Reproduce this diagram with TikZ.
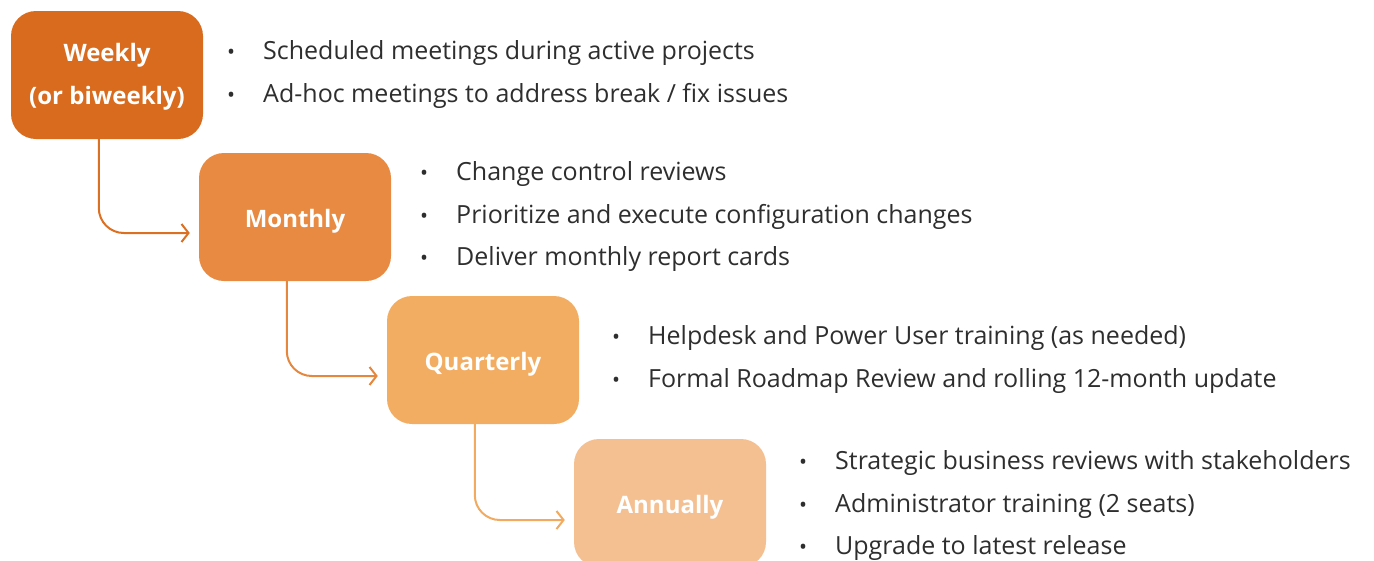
\documentclass[tikz,border=0pt]{standalone}
\usepackage{fontspec}
\setmainfont{Open Sans}
\usetikzlibrary{arrows.meta,positioning,calc}
\definecolor{cWeek}{HTML}{D96B1E}
\definecolor{cMonth}{HTML}{E88A42}
\definecolor{cQuart}{HTML}{F2AD62}
\definecolor{cYear}{HTML}{F4C092}
\definecolor{txt}{HTML}{2E2E2E}
\tikzset{phase/.style={rounded corners=25pt, minimum width=192pt, minimum height=128pt, inner sep=0pt, text=white, font=\fontsize{24}{43}\selectfont\bfseries, align=center, text height=20pt, text depth=0pt}}
\tikzset{item/.style={anchor=west, inner sep=0pt, text=txt, font=\fontsize{25}{30}\selectfont}}
\tikzset{arr/.style={draw, -{Straight Barb[length=7pt,width=18pt]}, line width=2pt, rounded corners=25pt}}
\newcommand{\bul}{\makebox[37pt][l]{\hspace{1pt}\scalebox{0.85}{\textbullet}}}

\begin{document}
\begin{tikzpicture}[x=1pt,y=-1pt]
			\useasboundingbox (0,0) rectangle (1374,560);
			\node[phase, fill=cWeek, text height=59pt, text depth=0pt] (W) at (107,75){Weekly\\(or biweekly)};
			\node[phase, fill=cMonth] (M) at (295,217){Monthly};
			\node[phase, fill=cQuart] (Q) at (483,360){Quarterly};
			\node[phase, fill=cYear] (A) at (670,503){Annually};
			
			% bullet lists
			\node[item] (W1) at (226,53){\bul Scheduled meetings during active projects};
			\node[item] (W2) at (226,96){\bul Ad-hoc meetings to address break / fix issues};
			\node[item] (M1) at (419,174){\bul Change control reviews};
			\node[item] (M2) at (419,217){\bul Prioritize and execute configuration changes};
			\node[item] (M3) at (419,259){\bul Deliver monthly report cards};
			\node[item] (Q1) at (611,338){\bul Helpdesk and Power User training (as needed)};
			\node[item] (Q2) at (611,381){\bul Formal Roadmap Review and rolling 12-month update};
			\node[item] (A1) at (798,463){\bul Strategic business reviews with stakeholders};
			\node[item] (A2) at (798,506){\bul Administrator training (2 seats)};
			\node[item] (A3) at (798,548){\bul Upgrade to latest release};
			
			\draw[arr, color={cWeek!85!cMonth}] ([xshift=88pt]W.south west) |- ([xshift=-9pt,yshift=-16pt]M.west);
			\draw[arr, color={cMonth!90!cWeek}] ([xshift=88pt]M.south west) |- ([xshift=-9pt,yshift=-16pt]Q.west);
			\draw[arr, color={cQuart!90!cMonth}] ([xshift=88pt]Q.south west) |- ([xshift=-9pt,yshift=-17pt]A.west);
		\end{tikzpicture}
\end{document}
